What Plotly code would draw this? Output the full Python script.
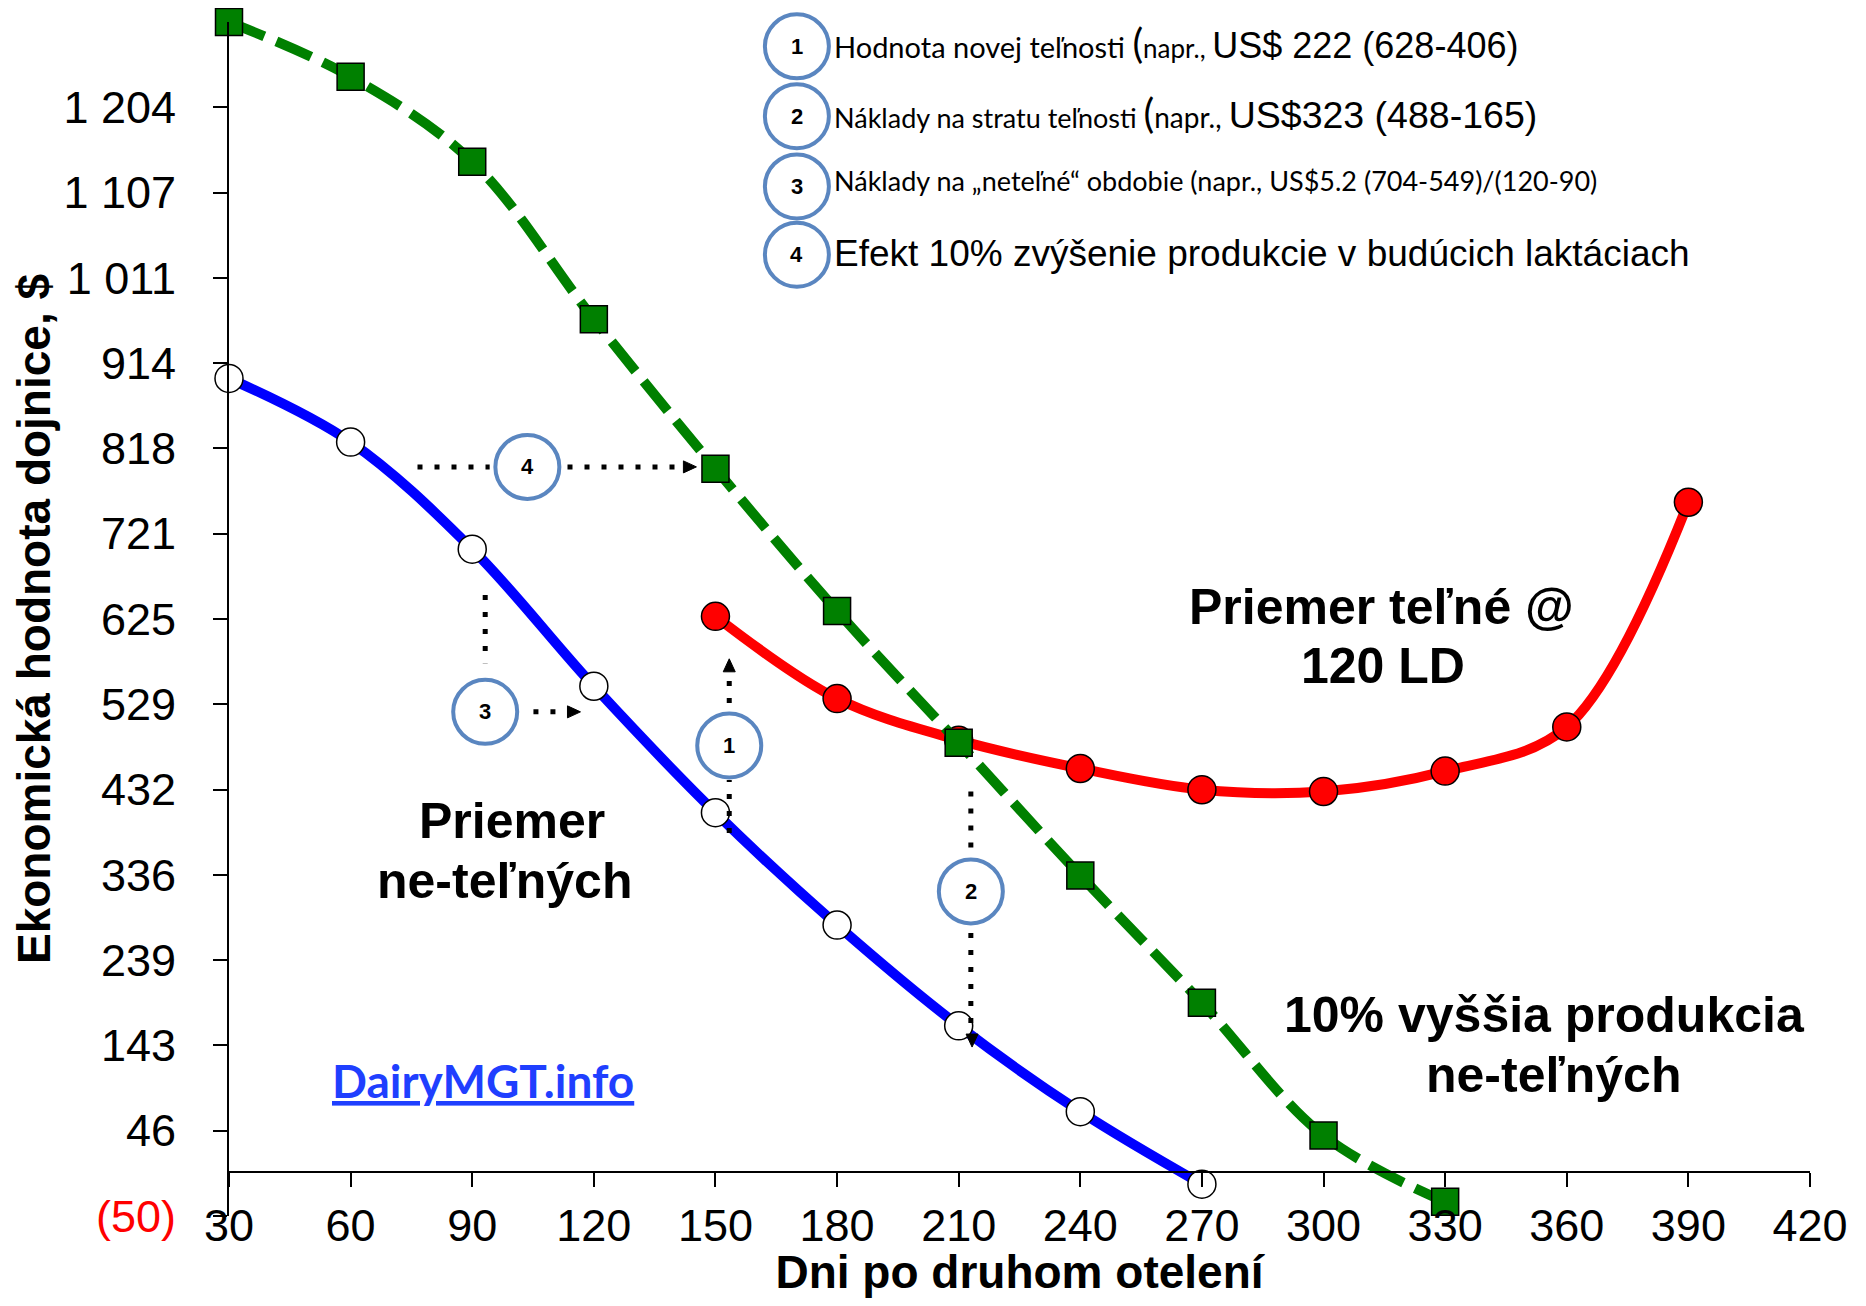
import plotly.graph_objects as go

ARIAL = "Liberation Sans, Arial, sans-serif"
NARROW = "Lato"

# ---------------- data ----------------
days_open = [30, 60, 90, 120, 150, 180, 210, 240, 270]
value_open = [897, 825, 704, 549, 406, 279, 165, 68, -14]

days_pregnant = [150, 180, 210, 240, 270, 300, 330, 360, 390]
value_pregnant = [628, 535, 488, 456, 432, 430, 453, 503, 757]

days_high = [30, 60, 90, 120, 150, 180, 210, 240, 270, 300, 330]
value_high = [1300, 1238, 1142, 964, 795, 634, 485, 335, 191, 41, -34]

x_ticks = [30, 60, 90, 120, 150, 180, 210, 240, 270, 300, 330, 360, 390, 420]
y_ticks = [-50, 46.43, 142.86, 239.29, 335.71, 432.14, 528.57, 625, 721.43,
           817.86, 914.29, 1010.71, 1107.14, 1203.57]
y_tick_labels = ['<span style="color:#FF0000">(50)</span>', "46", "143", "239", "336",
                 "432", "529", "625", "721", "818", "914", "1 011", "1 107", "1 204"]

X_RANGE = [30, 420]
Y_RANGE = [-50, 1300]

# callouts (numbered circles in the plot) – data-space anchors
callout_labels = ["1", "2", "3", "4"]
callout_x = [153.4, 213.0, 93.2, 103.6]
callout_y = [482, 317, 520, 797]

# dotted connector segments (x0, y0, x1, y1) in data space
callout_segments = [
    (153.4, 383, 153.4, 443), (153.4, 530, 153.4, 566),
    (213.0, 430, 213.0, 356), (213.0, 270, 213.0, 156),
    (93.2, 652, 93.2, 575), (105.1, 520, 113.5, 520),
    (76.5, 797, 94.3, 797), (113.5, 797, 142.1, 797),
]
# arrow tips: (x, y, direction)
arrow_tips = [(153.4, 580, "up"), (213.3, 141, "down"), (116.7, 520, "right"), (145.3, 797, "right")]

# explanation list at the top
legend_rows = [
    '<span style="font-size:29px">Hodnota novej teľnosti </span><span style="font-size:40px">(</span>'
    '<span style="font-size:26px">napr., </span>'
    '<span style="font-family:Liberation Sans;font-size:36px">US$ 222 (628-406)</span>',
    '<span style="font-size:27px">Náklady na stratu teľnosti </span><span style="font-size:40px">(</span>'
    '<span style="font-size:28px">napr., </span>'
    '<span style="font-family:Liberation Sans;font-size:37.5px">US$323 (488-165)</span>',
    'Náklady na \u201eneteľné\u201c obdobie (napr., US$5.2 (704-549)/(120-90)',
    '<span style="font-family:Liberation Sans;font-size:37px">Efekt 10% zvýšenie produkcie v budúcich laktáciach</span>',
]
legend_circle_x = 0.3592
legend_circle_y = [0.9796, 0.9210, 0.8623, 0.8051]
legend_text_x = 0.3816
legend_text_y = [0.9825, 0.9235, 0.8670, 0.8065]

# series labels, one entry per text line: (text, x, y) in paper units
series_label_lines = [
    ("Priemer", 0.1792, 0.3305), ("ne-teľných", 0.1745, 0.2802),
    ("Priemer teľné @", 0.7290, 0.5098), ("120 LD", 0.7300, 0.4604),
    ("10% vyššia produkcia", 0.8320, 0.1680), ("ne-teľných", 0.8380, 0.1185),
]

CIRCLE_BLUE = "#5A86C0"

fig = go.Figure()

fig.add_trace(go.Scatter(
    x=days_open, y=value_open, mode="lines+markers", name="Priemer ne-teľných",
    line=dict(color="#0000FF", width=10, shape="spline", smoothing=1),
    marker=dict(symbol="circle", size=28, color="white", line=dict(color="black", width=1.5)),
    cliponaxis=False))

fig.add_trace(go.Scatter(
    x=days_pregnant, y=value_pregnant, mode="lines+markers", name="Priemer teľné @ 120 LD",
    line=dict(color="#FF0000", width=10, shape="spline", smoothing=1),
    marker=dict(symbol="circle", size=28, color="#FF0000", line=dict(color="black", width=1.5)),
    cliponaxis=False))

fig.add_trace(go.Scatter(
    x=days_high, y=value_high, mode="lines+markers", name="10% vyššia produkcia ne-teľných",
    line=dict(color="#008000", width=10, shape="spline", smoothing=1, dash="38px,13px"),
    marker=dict(symbol="square", size=27, color="#008000", line=dict(color="black", width=1.5)),
    cliponaxis=False))

shapes = []
annotations = []

# dotted connectors
for (x0, y0, x1, y1) in callout_segments:
    shapes.append(dict(type="line", xref="x", yref="y", x0=x0, y0=y0, x1=x1, y1=y1,
                       line=dict(color="black", width=5, dash="5px,12px")))
# arrow heads
tri = {"right": "M 0,0 L -13,6 L -13,-6 Z",
       "up": "M 0,0 L -6,-13 L 6,-13 Z",
       "down": "M 0,0 L -6,13 L 6,13 Z"}
for (x, y, d) in arrow_tips:
    shapes.append(dict(type="path", xref="x", yref="y", xsizemode="pixel", ysizemode="pixel",
                       xanchor=x, yanchor=y, path=tri[d], fillcolor="black",
                       line=dict(color="black", width=1)))
# callout circles
for lab, x, y in zip(callout_labels, callout_x, callout_y):
    shapes.append(dict(type="circle", xref="x", yref="y", xsizemode="pixel", ysizemode="pixel",
                       xanchor=x, yanchor=y, x0=-32, x1=32, y0=-32, y1=32,
                       fillcolor="white", line=dict(color=CIRCLE_BLUE, width=4)))
    annotations.append(dict(x=x, y=y, xref="x", yref="y", text=f"<b>{lab}</b>", showarrow=False,
                            xanchor="center", yanchor="middle",
                            font=dict(family=ARIAL, size=22, color="black")))
# legend circles and texts
for i, (txt, cy, ty) in enumerate(zip(legend_rows, legend_circle_y, legend_text_y)):
    shapes.append(dict(type="circle", xref="paper", yref="paper", xsizemode="pixel", ysizemode="pixel",
                       xanchor=legend_circle_x, yanchor=cy, x0=-32, x1=32, y0=-32, y1=32,
                       fillcolor="white", line=dict(color=CIRCLE_BLUE, width=4)))
    annotations.append(dict(x=legend_circle_x, y=cy, xref="paper", yref="paper",
                            text=f"<b>{i + 1}</b>", showarrow=False,
                            xanchor="center", yanchor="middle",
                            font=dict(family=ARIAL, size=22, color="black")))
    annotations.append(dict(x=legend_text_x, y=ty, xref="paper", yref="paper", text=txt,
                            showarrow=False, xanchor="left", yanchor="middle", align="left",
                            font=dict(family=NARROW, size=27, color="black")))

# series labels
big = dict(family=ARIAL, size=50, color="black")
for txt, x, y in series_label_lines:
    annotations.append(dict(x=x, y=y, xref="paper", yref="paper", text=f"<b>{txt}</b>",
                            showarrow=False, xanchor="center", yanchor="middle", font=big))
annotations.append(dict(x=0.1609, y=0.1139, xref="paper", yref="paper",
                        text="<b><u>DairyMGT.info</u></b>",
                        showarrow=False, xanchor="center", yanchor="middle",
                        font=dict(family=NARROW, size=46, color="#1F3FFF")))

fig.update_layout(
    width=1850, height=1290,
    margin=dict(l=221, r=48, t=14, b=82),
    paper_bgcolor="white", plot_bgcolor="white",
    showlegend=False,
    font=dict(family=ARIAL, size=45, color="black"),
    shapes=shapes, annotations=annotations,
    xaxis=dict(range=X_RANGE, tickmode="array", tickvals=x_ticks,
               ticktext=[str(v) for v in x_ticks],
               showline=True, linecolor="black", linewidth=2,
               ticks="outside", ticklen=14, tickwidth=2, tickcolor="black",
               showgrid=False, zeroline=False, automargin=False,
               anchor="free", position=(0 - Y_RANGE[0]) / (Y_RANGE[1] - Y_RANGE[0]),
               tickfont=dict(family=ARIAL, size=45, color="black"),
               ticklabelstandoff=0,
               title=dict(text="<b>Dni po druhom otelení</b>", standoff=29,
                          font=dict(family=ARIAL, size=46, color="black"))),
    yaxis=dict(range=Y_RANGE, tickmode="array", tickvals=y_ticks, ticktext=y_tick_labels,
               showline=True, linecolor="black", linewidth=2,
               ticks="outside", ticklen=14, tickwidth=2, tickcolor="black",
               showgrid=False, zeroline=False, automargin=False,
               tickfont=dict(family=ARIAL, size=45, color="black"),
               ticklabelstandoff=28,
               title=dict(text="<b>Ekonomická hodnota dojnice, $</b>", standoff=8,
                          font=dict(family=ARIAL, size=46, color="black"))),
)

fig.write_html("out.html")
